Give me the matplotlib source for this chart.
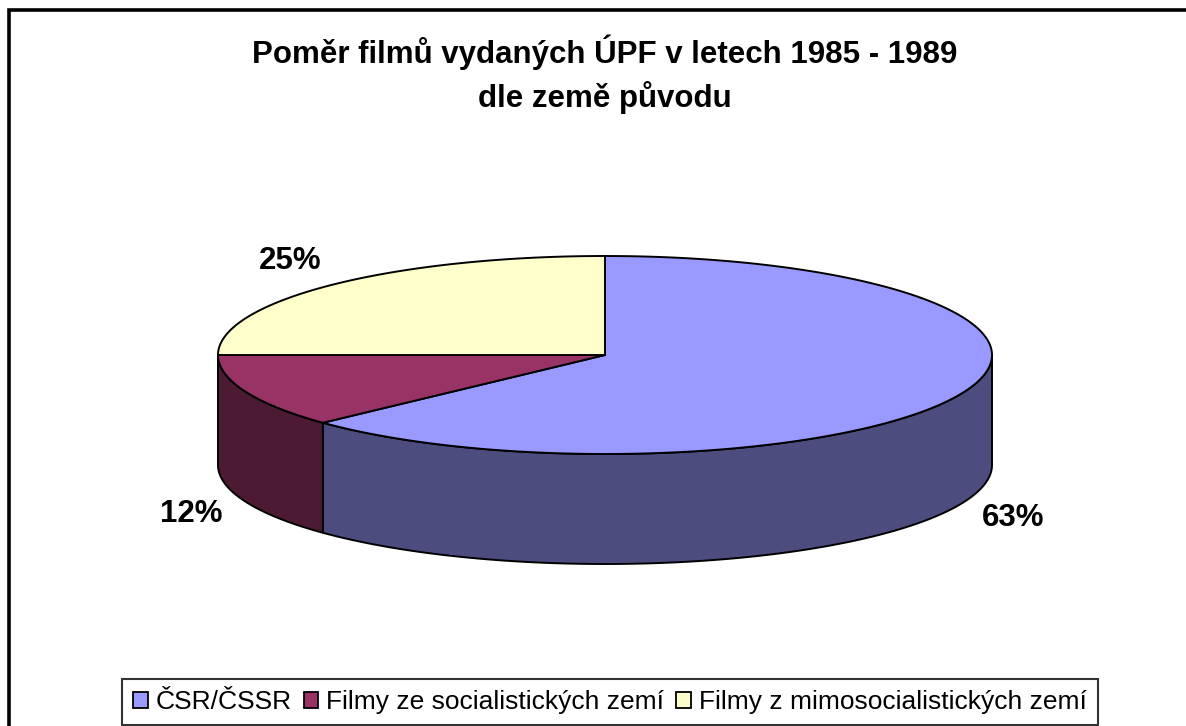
import numpy as np
import matplotlib
matplotlib.use("Agg")
import matplotlib.pyplot as plt
from matplotlib.patches import Polygon, Patch
from matplotlib.lines import Line2D

# ---- data ----
categories = ["ČSR/ČSSR", "Filmy ze socialistických zemí", "Filmy z mimosocialistických zemí"]
shares = [63, 12, 25]
labels = ["63%", "12%", "25%"]
title = "Poměr filmů vydaných ÚPF v letech 1985 - 1989\ndle země původu"

top_colors = ["#9999FF", "#993366", "#FFFFCC"]
side_colors = ["#4C4C7F", "#4C1A33", "#80805F"]

plt.rcParams['font.family'] = ['Liberation Sans', 'DejaVu Sans']

W, H = 1186, 726
fig = plt.figure(figsize=(W / 100, H / 100), dpi=100)
ax = fig.add_axes([0, 0, 1, 1])
ax.set_xlim(0, W)
ax.set_ylim(H, 0)
ax.axis('off')

# geometry of the 3D pie (pixel layout)
cx, cy = 605, 355
rx, ry = 387, 99
depth = 110
lw = 1.4


def pt(theta_deg, dy=0.0):
    t = np.radians(theta_deg)
    return cx + rx * np.cos(t), cy - ry * np.sin(t) + dy


def arc(t0, t1, dy=0.0, n=200):
    ts = np.linspace(t0, t1, n)
    return np.array([pt(t, dy) for t in ts])


total = float(sum(shares))
angles = []
a = 90.0
for v in shares:
    span = 360.0 * v / total
    angles.append((a - span, a))  # clockwise
    a -= span

# sides (front half only)
for (a0, a1), col in zip(angles, side_colors):
    for k in (-1, 0, 1):
        lo, hi = -180 + 360 * k, 0 + 360 * k
        s0, s1 = max(a0, lo), min(a1, hi)
        if s1 - s0 > 1e-6:
            top = arc(s0, s1)
            bot = arc(s1, s0, dy=depth)
            poly = Polygon(np.vstack([top, bot]), closed=True, facecolor=col,
                           edgecolor='black', linewidth=lw, joinstyle='round', zorder=2)
            ax.add_patch(poly)

# tops
for (a0, a1), col in zip(angles, top_colors):
    pts = np.vstack([[cx, cy], arc(a1, a0)])
    ax.add_patch(Polygon(pts, closed=True, facecolor=col, edgecolor='black',
                         linewidth=lw, joinstyle='round', zorder=3))

# labels
fx, fy = 1.15, 1.34
for (a0, a1), lab in zip(angles, labels):
    m = (a0 + a1) / 2.0
    t = np.radians(m)
    x = cx + rx * fx * np.cos(t)
    y = cy - ry * fy * np.sin(t)
    if np.sin(t) < 0:
        y += depth
    ax.text(x, y, lab, ha='center', va='center', fontsize=22.5, fontweight='bold', zorder=5)

# title
ax.text(605, 74, title, ha='center', va='center', fontsize=22.5, fontweight='bold',
        linespacing=1.42)

# outer frame
ax.add_line(Line2D([9, 9, W + 5], [H + 5, 10, 10], color='black', linewidth=2.6,
                   solid_joinstyle='miter'))

# legend
handles = [Patch(facecolor=c, edgecolor='black', linewidth=1.3) for c in top_colors]
leg = fig.legend(handles, categories, loc='lower center', ncol=3,
                 bbox_to_anchor=(610 / W, 1 / H), bbox_transform=fig.transFigure,
                 fontsize=19, frameon=True, fancybox=False, edgecolor='black',
                 handlelength=0.55, handleheight=0.55, handletextpad=0.3,
                 columnspacing=0.45, borderpad=0.42, borderaxespad=0)
leg.get_frame().set_linewidth(1.5)

fig.savefig("out.png", dpi=100)
